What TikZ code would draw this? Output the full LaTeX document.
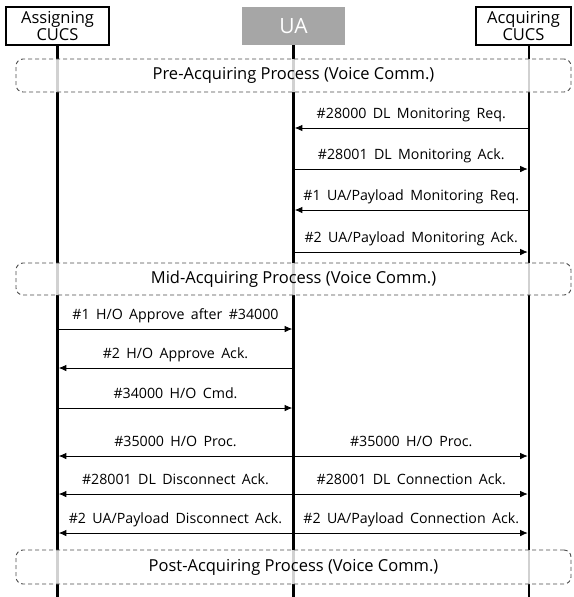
\documentclass[tikz,border=0pt]{standalone}
\usepackage{fontspec}
\setmainfont{Open Sans}
\usetikzlibrary{arrows.meta,calc,positioning}
\newcommand\widegap{\spaceskip 0.45em\relax}
\tikzset{%
	actor/.style    = {draw, line width=1.8pt, rectangle, minimum height=38pt, inner sep=0pt, align=center, font=\fontsize{16.5}{17}\selectfont},
	uabox/.style    = {rectangle, fill=black!35, text=white, minimum width=103pt, minimum height=38pt, font=\fontsize{21}{22}\selectfont},
	lifeline/.style = {line width=2.6pt},
	phase/.style    = {draw=black!70, line width=0.9pt, dashed, dash pattern=on 4pt off 3pt, rounded corners=7pt, fill=white, fill opacity=0.82, text opacity=1, draw opacity=1, minimum width=555pt, minimum height=33pt, font=\fontsize{16.5}{18}\selectfont},
	msg/.style      = {-{Latex[length=7.5pt,width=6.5pt]}, line width=0.8pt, shorten <=1.3pt, shorten >=1.3pt},
	lbl/.style      = {anchor=base, yshift=9.5pt, inner sep=0pt, font=\fontsize{14.2}{15}\selectfont\widegap},
}

\begin{document}
\begin{tikzpicture}[x=1pt,y=-1pt]
	\useasboundingbox (0,0) rectangle (573,597);
	% participants
	\node [actor, minimum width=103pt] (asg) at (57.5,26) {Assigning\\CUCS};
	\node [uabox] (ua) at (293.5,26) {UA};
	\node [actor, minimum width=95pt] (acq) at (523.5,26) {Acquiring\\CUCS};
	\coordinate (acqline) at (529,45);
	\coordinate (bottom) at (0,597);

	% lifelines
	\draw[lifeline] (asg.south) -- (asg.south |- bottom);
	\draw[lifeline] (ua.south) -- (ua.south |- bottom);
	\draw[lifeline] (acqline) -- (acqline |- bottom);

	% process boxes
	\node [phase] (pre) at (293.5,75.5) {Pre-Acquiring Process (Voice Comm.)};
	\node [phase, minimum height=32pt] (mid) at (293.5,279) {Mid-Acquiring Process (Voice Comm.)};
	\node [phase, minimum height=34pt] (post) at (293.5,567) {Post-Acquiring Process (Voice Comm.)};

	% message rows
	\coordinate (r1) at (0,128);
	\coordinate (r2) at (0,169);
	\coordinate (r3) at (0,210);
	\coordinate (r4) at (0,252);
	\coordinate (r5) at (0,329);
	\coordinate (r6) at (0,368);
	\coordinate (r7) at (0,408);
	\coordinate (r8) at (0,456);
	\coordinate (r9) at (0,494);
	\coordinate (r10) at (0,533);

	\draw[msg] (acqline |- r1) -- node[lbl] {\#28000 DL Monitoring Req.} (ua |- r1);
	\draw[msg] (ua |- r2) -- node[lbl] {\#28001 DL Monitoring Ack.} (acqline |- r2);
	\draw[msg] (acqline |- r3) -- node[lbl] {\#1 UA/Payload Monitoring Req.} (ua |- r3);
	\draw[msg] (ua |- r4) -- node[lbl] {\#2 UA/Payload Monitoring Ack.} (acqline |- r4);

	\draw[msg] (asg |- r5) -- node[lbl] {\#1 H/O Approve after \#34000} (ua |- r5);
	\draw[msg] (ua |- r6) -- node[lbl] {\#2 H/O Approve Ack.} (asg |- r6);
	\draw[msg] (asg |- r7) -- node[lbl] {\#34000 H/O Cmd.} (ua |- r7);

	\draw[msg] (ua |- r8) -- node[lbl] {\#35000 H/O Proc.} (asg |- r8);
	\draw[msg] (ua |- r8) -- node[lbl] {\#35000 H/O Proc.} (acqline |- r8);
	\draw[msg] (ua |- r9) -- node[lbl] {\#28001 DL Disconnect Ack.} (asg |- r9);
	\draw[msg] (ua |- r9) -- node[lbl] {\#28001 DL Connection Ack.} (acqline |- r9);
	\draw[msg] (ua |- r10) -- node[lbl] {\#2 UA/Payload Disconnect Ack.} (asg |- r10);
	\draw[msg] (ua |- r10) -- node[lbl] {\#2 UA/Payload Connection Ack.} (acqline |- r10);
\end{tikzpicture}
\end{document}
